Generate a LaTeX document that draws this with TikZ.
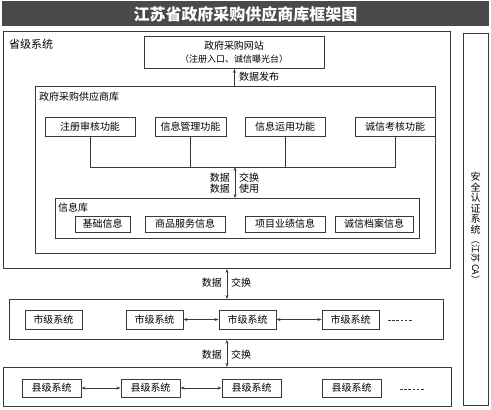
\documentclass[tikz,border=0pt]{standalone}
\usepackage{fontspec}
\setmainfont{Noto Sans CJK SC}
\usetikzlibrary{arrows.meta}
\definecolor{titlegray}{HTML}{4A4A4A}
\definecolor{linegray}{HTML}{3A3A3A}
\begin{document}
\begin{tikzpicture}[x=1pt,y=-1pt,
  font=\fontsize{10}{12}\selectfont,
  bigbox/.style={draw=linegray, line width=0.9pt, inner sep=0pt, anchor=north west},
  bx/.style={draw=linegray, line width=0.9pt, inner sep=0pt},
  lbl/.style={inner sep=0pt},
  conn/.style={draw=linegray, line width=0.8pt},
  biarr/.style={conn, {Stealth[length=4pt,width=3pt]}-{Stealth[length=4pt,width=3pt]}},
  uparr/.style={conn, -{Stealth[length=4pt,width=3pt]}},
  dots/.style={draw=linegray, line width=0.8pt, dash pattern=on 2.6pt off 1.6pt}
]
\useasboundingbox (0,0) rectangle (491,410);
% title
\fill[titlegray] (2,1) rectangle (489,26);
\node[lbl, text=white, font=\fontsize{16}{18}\selectfont\bfseries] (title) at (245.5,14) {江苏省政府采购供应商库框架图};

% province system
\node[bigbox, minimum width=447pt, minimum height=237pt] (prov) at (3,31) {};
\node[lbl, anchor=west, font=\fontsize{11}{13}\selectfont] (provl) at (9,44) {省级系统};

% website
\node[bigbox, minimum width=180pt, minimum height=32pt] (web) at (144,36) {};
\node[lbl] (webt1) at (234,45.5) {政府采购网站};
\node[lbl, font=\fontsize{9}{11}\selectfont] (webt2) at (234,59) {（注册入口、诚信曝光台）};

% supplier library
\node[bigbox, minimum width=400pt, minimum height=167pt] (lib) at (35,86) {};
\node[lbl, anchor=west] (libl) at (39,97) {政府采购供应商库};
\draw[uparr] (web.south |- lib.north) -- (web.south);
\node[lbl, anchor=west] (pub) at (239,77) {数据发布};

% function boxes
\node[bx, minimum width=90pt, minimum height=19pt] (f1) at (90,126.5) {注册审核功能};
\node[bx, minimum width=71pt, minimum height=19pt] (f2) at (190.5,126.5) {信息管理功能};
\node[bx, minimum width=80pt, minimum height=19pt] (f3) at (285,126.5) {信息运用功能};
\node[bx, minimum width=80pt, minimum height=19pt] (f4) at (395,126.5) {诚信考核功能};
\coordinate (bus) at (235,167);
\draw[conn] (f1.south) -- (f1.south |- bus) -- (f4.south |- bus) -- (f4.south);
\draw[conn] (f2.south) -- (f2.south |- bus);
\draw[conn] (f3.south) -- (f3.south |- bus);

% info database
\node[bigbox, minimum width=364pt, minimum height=40pt] (db) at (55,198) {};
\node[lbl, anchor=west] (dbl) at (58,207.5) {信息库};
\draw[biarr] (bus) -- (bus |- db.north);
\node[lbl, anchor=east] (d1) at (230,177.5) {数据};
\node[lbl, anchor=east] (d2) at (230,189) {数据};
\node[lbl, anchor=west] (e1) at (239,177.5) {交换};
\node[lbl, anchor=west] (e2) at (239,189) {使用};

\node[bx, minimum width=55pt, minimum height=16pt] (i1) at (102.5,224) {基础信息};
\node[bx, minimum width=80pt, minimum height=16pt] (i2) at (185,224) {商品服务信息};
\node[bx, minimum width=80pt, minimum height=16pt] (i3) at (285,224) {项目业绩信息};
\node[bx, minimum width=78pt, minimum height=16pt] (i4) at (374,224) {诚信档案信息};

% city level
\node[bigbox, minimum width=434pt, minimum height=40pt] (city) at (9,299) {};
\draw[biarr] (prov.south) -- (prov.south |- city.north);
\node[lbl, anchor=east] (cd) at (222,283) {数据};
\node[lbl, anchor=west] (ce) at (231,283) {交换};

\node[bx, minimum width=57pt, minimum height=19pt] (c1) at (53.5,319.5) {市级系统};
\node[bx, minimum width=57pt, minimum height=19pt] (c2) at (154.5,319.5) {市级系统};
\node[bx, minimum width=57pt, minimum height=19pt] (c3) at (247.5,319.5) {市级系统};
\node[bx, minimum width=57pt, minimum height=19pt] (c4) at (350.5,319.5) {市级系统};
\draw[biarr] (c2.east) -- (c3.west);
\draw[biarr] (c3.east) -- (c4.west);
\coordinate (cdotA) at (388,320);
\coordinate (cdotB) at (413,320);
\draw[dots] (cdotA) -- (cdotB);

% county level
\node[bigbox, minimum width=448pt, minimum height=39pt] (county) at (3,367) {};
\draw[biarr] (city.south -| prov.south) -- (county.north -| prov.south);
\node[lbl, anchor=east] (kd) at (222,355) {数据};
\node[lbl, anchor=west] (ke) at (231,355) {交换};

\node[bx, minimum width=59pt, minimum height=18pt] (k1) at (51.5,388) {县级系统};
\node[bx, minimum width=59pt, minimum height=18pt] (k2) at (150.5,388) {县级系统};
\node[bx, minimum width=59pt, minimum height=18pt] (k3) at (251.5,388) {县级系统};
\node[bx, minimum width=59pt, minimum height=18pt] (k4) at (351.5,388) {县级系统};
\draw[biarr] (k1.east) -- (k2.west);
\draw[biarr] (k2.east) -- (k3.west);
\coordinate (kdotA) at (400,389);
\coordinate (kdotB) at (425,389);
\draw[dots] (kdotA) -- (kdotB);

% security system
\node[bigbox, minimum width=25pt, minimum height=372pt] (sec) at (463,33) {};
\node[lbl, anchor=south, align=center, font=\fontsize{10}{10.5}\selectfont] (sect1) at (475.5,234) {安\\全\\认\\证\\系\\统};
\node[lbl, rotate=-90, anchor=west, font=\fontsize{9}{11}\selectfont] (sect2) at (475.5,235) {（江苏 CA）};
\end{tikzpicture}
\end{document}
